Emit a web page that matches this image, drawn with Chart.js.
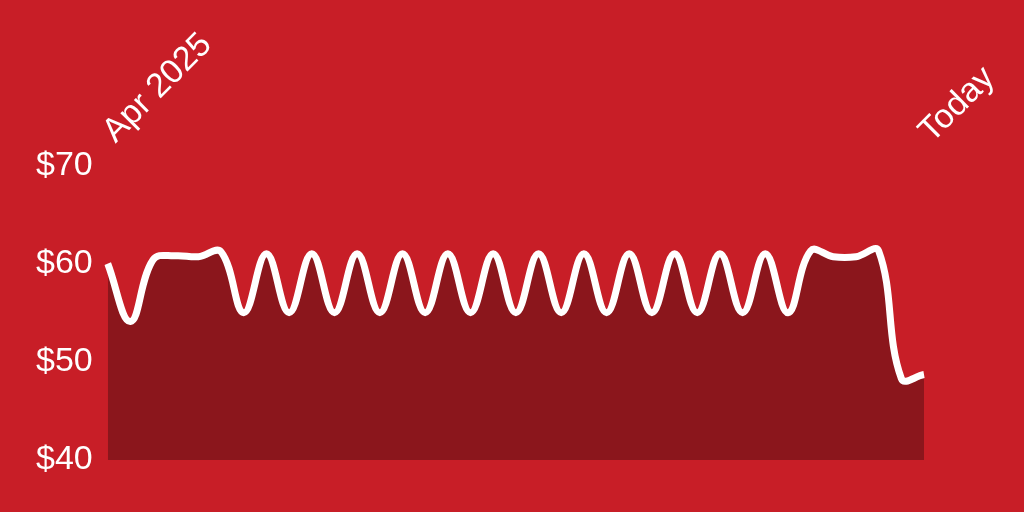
<!DOCTYPE html>
<html>
<head>
<meta charset="utf-8">
<script src="https://cdn.jsdelivr.net/npm/chart.js@4"></script>
<style>
  html, body { margin: 0; padding: 0; background: #C81E27; }
  #wrap { width: 1024px; height: 512px; position: relative; }
</style>
</head>
<body>
<div id="wrap"><canvas id="chart"></canvas></div>
<script>
// Price history, roughly weekly from Apr 2025 to today
const prices = [
  60, 54.1, 60.4, 60.8, 60.7, 61.2,
  55, 61, 55, 61, 55, 61, 55, 61, 55, 61, 55, 61, 55, 61,
  55, 61, 55, 61, 55, 61, 55, 61, 55, 61, 55,
  61.3, 60.7, 60.7, 61.3, 48.3, 48.7
];
const firstLabel = 'Apr 2025';
const lastLabel = 'Today';
const yTicks = [40, 50, 60, 70];

const labels = prices.map((_, i) => i);
const FONT = "'Liberation Sans', Arial, Helvetica, sans-serif";

new Chart(document.getElementById('chart'), {
  type: 'line',
  data: {
    labels,
    datasets: [{
      data: prices,
      borderColor: '#ffffff',
      borderWidth: 7,
      backgroundColor: '#8B161C',
      fill: 'start',
      tension: 0.4,
      pointRadius: 0,
      borderCapStyle: 'butt'
    }]
  },
  options: {
    responsive: true, maintainAspectRatio: false,
    animation: false,
    layout: { padding: { left: 21, right: 100, top: 11, bottom: 52 } },
    plugins: { legend: { display: false }, tooltip: { enabled: false } },
    scales: {
      x: {
        position: 'top',
        offset: false,
        grid: { display: false, drawTicks: false },
        border: { display: false },
        afterFit: axis => { axis.paddingLeft = 0; axis.paddingRight = 0; },
        ticks: {
          autoSkip: false,
          maxRotation: 45, minRotation: 45,
          padding: 14,
          labelOffset: 30,
          color: '#ffffff',
          font: { family: FONT, size: 34 },
          callback: (v, i, arr) => i === 0 ? firstLabel : (i === arr.length - 1 ? lastLabel : '')
        }
      },
      y: {
        min: yTicks[0], max: yTicks[yTicks.length - 1],
        afterBuildTicks: axis => { axis.ticks = yTicks.map(v => ({ value: v })); },
        grid: { display: false, drawTicks: false },
        border: { display: false },
        ticks: {
          padding: 15,
          color: '#ffffff',
          font: { family: FONT, size: 34 },
          callback: v => '$' + v
        }
      }
    }
  }
});
</script>
</body>
</html>
